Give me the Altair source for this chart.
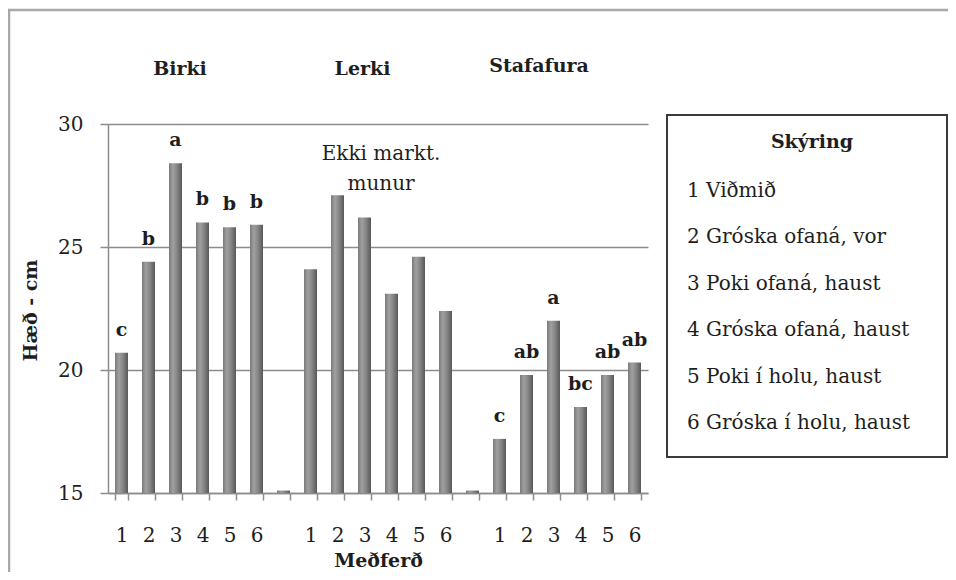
import altair as alt
import pandas as pd

# ---------------- data ----------------
groups = ["Birki", "Lerki", "Stafafura"]
treatments = ["1", "2", "3", "4", "5", "6"]
birki = [20.7, 24.4, 28.4, 26.0, 25.8, 25.9]
lerki = [24.1, 27.1, 26.2, 23.1, 24.6, 22.4]
stafafura = [17.2, 19.8, 22.0, 18.5, 19.8, 20.3]
birki_letters = ["c", "b", "a", "b", "b", "b"]
lerki_letters = ["", "", "", "", "", ""]
stafafura_letters = ["c", "ab", "a", "bc", "ab", "ab"]
gap_value = 15.1
lerki_note = ["Ekki markt.", "munur"]
legend_title = "Skýring"
legend_items = [
    "1 Viðmið",
    "2 Gróska ofaná, vor",
    "3 Poki ofaná, haust",
    "4 Gróska ofaná, haust",
    "5 Poki í holu, haust",
    "6 Gróska í holu, haust",
]
y_ticks = [15, 20, 25, 30]
x_title = "Meðferð"
y_title = "Hæð - cm"

# ---------------- tables ----------------
series = {
    "Birki": (birki, birki_letters),
    "Lerki": (lerki, lerki_letters),
    "Stafafura": (stafafura, stafafura_letters),
}
rows = []
for gi, g in enumerate(groups):
    vals, lets = series[g]
    for t, v, l in zip(treatments, vals, lets):
        rows.append({"slot": f"{g}-{t}", "group": g, "value": v, "base": 15, "letter": l})
    if gi < len(groups) - 1:
        rows.append({"slot": f"gap-{gi}", "group": "", "value": gap_value, "base": 15, "letter": ""})
df = pd.DataFrame(rows)
order = list(df["slot"])

FONT = "DejaVu Serif"
GRID = "#8c8c8c"
TXT = "#1e1e1e"

xscale = alt.Scale(domain=order, paddingInner=0.52, paddingOuter=0.26)
yscale = alt.Scale(domain=[15, 30], nice=False, zero=False)

bar_fill = alt.LinearGradient(
    gradient="linear",
    x1=0, x2=1, y1=0, y2=0,
    stops=[
        alt.GradientStop(color="#7a7a7a", offset=0),
        alt.GradientStop(color="#a0a0a0", offset=0.3),
        alt.GradientStop(color="#878787", offset=0.6),
        alt.GradientStop(color="#585858", offset=1),
    ],
)

one = pd.DataFrame({"k": [0]})

frame = alt.Chart(one).mark_rect(
    fillOpacity=0, stroke="#a8a8a8", strokeWidth=2.5
).encode(x=alt.value(-99), x2=alt.value(1000), y=alt.value(-114), y2=alt.value(1000))

label_expr = (
    "isString(datum.value) && indexof(datum.value, 'gap') < 0 "
    "? split(datum.value, '-')[1] : ''"
)

bars = alt.Chart(df).mark_bar(size=13, color=bar_fill).encode(
    x=alt.X(
        "slot:N",
        scale=xscale,
        axis=alt.Axis(
            title=x_title,
            labelExpr=label_expr,
            labelAngle=0,
            tickBand="extent",
            tickSize=7,
            tickColor=GRID,
            tickWidth=1.5,
            domainColor=GRID,
            domainWidth=1.5,
            labelFont=FONT,
            labelFontSize=20,
            labelColor=TXT,
            labelBaseline="alphabetic",
            labelPadding=41,
            titleFont=FONT,
            titleFontSize=19,
            titleFontWeight="bold",
            titleColor=TXT,
            titleX=270,
            titleY=73,
            titleBaseline="alphabetic",
            titleAlign="center",
            grid=False,
        ),
    ),
    y=alt.Y(
        "value:Q",
        scale=yscale,
        axis=alt.Axis(
            values=y_ticks,
            title=y_title,
            tickSize=8,
            tickColor=GRID,
            tickWidth=1.5,
            domainColor=GRID,
            domainWidth=1.5,
            grid=True,
            gridColor=GRID,
            gridWidth=1.5,
            labelFont=FONT,
            labelFontSize=20,
            labelColor=TXT,
            labelPadding=17,
            titleFont=FONT,
            titleFontSize=19,
            titleFontWeight="bold",
            titleColor=TXT,
            titleX=-78,
            titleY=186,
            titleBaseline="middle",
            titleAlign="center",
        ),
    ),
    y2="base:Q",
)

letters = alt.Chart(df).mark_text(
    dy=-17, baseline="alphabetic", align="center", font=FONT, fontSize=19,
    fontWeight="bold", color=TXT,
).encode(
    x=alt.X("slot:N", scale=xscale),
    y=alt.Y("value:Q", scale=yscale),
    text="letter:N",
)

title_df = pd.DataFrame({"slot": [f"{g}-3" for g in groups], "label": groups})
title_dx = {"Birki": 4.5, "Lerki": -2, "Stafafura": -14.5}
title_dy = {"Birki": -49, "Lerki": -49, "Stafafura": -52}
title_layers = []
for g in groups:
    title_layers.append(
        alt.Chart(title_df).transform_filter(alt.datum.label == g).mark_text(
            dx=title_dx[g], dy=title_dy[g], baseline="alphabetic", align="center",
            font=FONT, fontSize=19, fontWeight="bold", color=TXT,
        ).encode(
            x=alt.X("slot:N", scale=xscale),
            y=alt.value(0),
            text="label:N",
        )
    )

note_df = pd.DataFrame({"slot": ["Lerki-3"], "note": ["\n".join(lerki_note)]})
note = alt.Chart(note_df).mark_text(
    dx=16.5, dy=36, baseline="alphabetic", align="center", font=FONT, fontSize=20,
    color=TXT, lineBreak="\n", lineHeight=30,
).encode(
    x=alt.X("slot:N", scale=xscale),
    y=alt.value(0),
    text="note:N",
)

legend_box = alt.Chart(one).mark_rect(
    fill="white", stroke="#3a3a3a", strokeWidth=2
).encode(x=alt.value(559), x2=alt.value(839), y=alt.value(-9), y2=alt.value(333))

legend_head = alt.Chart(pd.DataFrame({"t": [legend_title]})).mark_text(
    align="center", baseline="alphabetic", font=FONT, fontSize=19,
    fontWeight="bold", color=TXT,
).encode(x=alt.value(704), y=alt.value(24), text="t:N")

legend_df = pd.DataFrame({"row": list(range(len(legend_items))), "item": legend_items})
legend_layers = []
for i in range(len(legend_items)):
    legend_layers.append(
        alt.Chart(legend_df).transform_filter(alt.datum.row == i).mark_text(
            align="left", baseline="alphabetic", font=FONT, fontSize=20, color=TXT,
        ).encode(x=alt.value(579), y=alt.value(73 + 46.4 * i), text="item:N")
    )

chart = (
    alt.layer(frame, bars, letters, *title_layers, note, legend_box, legend_head, *legend_layers)
    .properties(
        width=540,
        height=369,
        autosize="none",
        padding={"left": 100, "top": 116, "right": 300, "bottom": 79},
    )
    .configure(background="white")
    .configure_view(strokeWidth=0)
)

chart.save("out.html", embed_options={"renderer": "svg", "actions": False})
